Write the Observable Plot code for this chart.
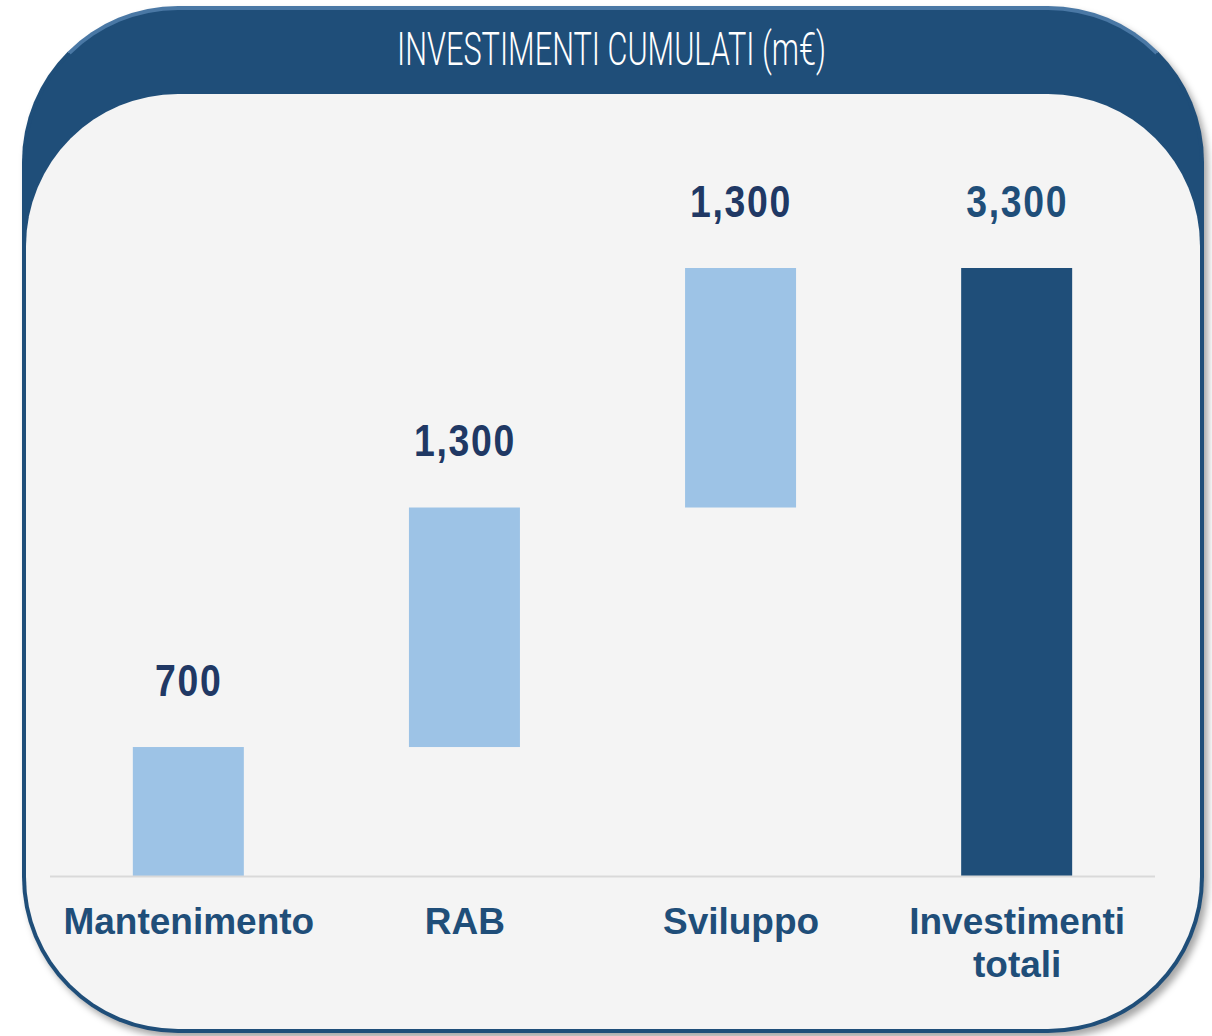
<!DOCTYPE html>
<html><head><meta charset="utf-8">
<script src="https://cdn.jsdelivr.net/npm/d3@7"></script>
<script src="https://cdn.jsdelivr.net/npm/@observablehq/plot@0.6"></script>
<style>
html,body{margin:0;padding:0;background:#fff;width:1212px;height:1036px;overflow:hidden;position:relative;}
#frame{position:absolute;left:22px;top:6px;width:1182px;height:1027px;box-sizing:border-box;border-radius:156px;background:#1f4e79;border:4px solid #1f4e79;border-top-color:#4a78a5;box-shadow:4px 5px 7px rgba(0,0,0,0.35);}
#panel{position:absolute;left:26px;top:94px;width:1174px;height:935px;border-radius:152px;background:#f4f4f4;}
#title{position:absolute;left:6px;width:1212px;top:26px;text-align:center;color:#fff;font-family:Roboto,"Liberation Sans",sans-serif;font-weight:300;font-size:46px;line-height:46px;white-space:nowrap;}
#title span{display:inline-block;transform-origin:center;}
#chart{position:absolute;left:50px;top:100px;}
</style>
</head><body>
<div id="frame"></div>
<div id="panel"></div>
<div id="title"><span id="tspan">INVESTIMENTI CUMULATI (m€)</span></div>
<div id="chart"></div>
<script>
const categories = ["Mantenimento", "RAB", "Sviluppo", "Investimenti\ntotali"];
const values = [700, 1300, 1300, 3300];
const isTotal = [false, false, false, true];

// waterfall rows
let running = 0;
const rows = categories.map((c, i) => {
  let start, end;
  if (isTotal[i]) { start = 0; end = values[i]; }
  else { start = running; end = running + values[i]; running = end; }
  return {cat: c, value: values[i], start, end, total: isTotal[i]};
});
const fmt = d3.format(",");

const chart = Plot.plot({
  width: 1105,
  height: 900,
  marginTop: 168,
  marginBottom: 124,
  marginLeft: 0,
  marginRight: 0,
  x: {domain: categories, paddingInner: 0.598, paddingOuter: 0.3, round: false, axis: null},
  y: {domain: [0, 3300], axis: null},
  style: {background: "transparent", fontFamily: "'Liberation Sans', Arial, sans-serif", overflow: "visible"},
  marks: [
    Plot.barY(rows, {x: "cat", y1: "start", y2: "end", fill: d => d.total ? "#1f4e79" : "#9dc3e6"}),
    Plot.ruleY([0], {stroke: "#d9d9d9", strokeWidth: 2}),
    Plot.text(rows, {x: "cat", y: "end", text: d => fmt(d.value), lineAnchor: "bottom", dy: -52,
      fontSize: 44, fontWeight: 700, fill: d => d.total ? "#1f4e79" : "#203864"}),
    Plot.axisX({tickSize: 0, tickPadding: 27, fontSize: 37, fontWeight: 700, fill: "#1f4e79", lineHeight: 1.16, label: null})
  ]
});
document.getElementById("chart").appendChild(chart);

// condense the value labels horizontally around their anchor
d3.select(chart).selectAll('g[aria-label="text"] text').each(function() {
  const t = this.getAttribute("transform") || "";
  this.setAttribute("transform", t + " scale(0.85,1)");
  this.style.letterSpacing = "2px";
});

// condense title to target width
const ts = document.getElementById("tspan");
const w = ts.getBoundingClientRect().width;
ts.style.transform = `scaleX(${429 / w})`;
</script>
</body></html>
